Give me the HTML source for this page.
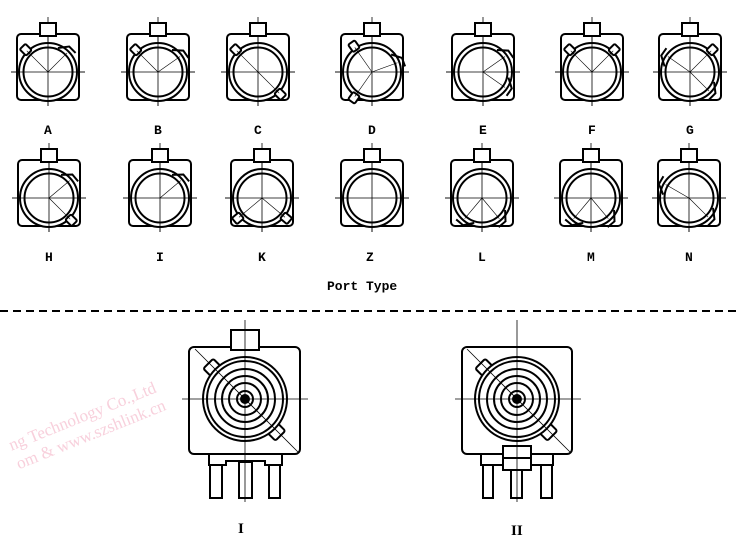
<!DOCTYPE html>
<html><head><meta charset="utf-8"><style>
html,body{margin:0;padding:0;background:#fff;}
svg{display:block;}
text{font-family:"Liberation Mono","DejaVu Sans Mono",monospace;font-weight:bold;font-size:13px;fill:#000;}
</style></head><body>
<svg width="740" height="546" viewBox="0 0 740 546" xmlns="http://www.w3.org/2000/svg">
<defs>
<g id="ic">
  <line x1="-37" y1="0" x2="37" y2="0" stroke="#000" stroke-width="0.8"/>
  <line x1="0" y1="-55" x2="0" y2="34" stroke="#000" stroke-width="0.8"/>
  <rect x="-31" y="-38" width="62" height="66" rx="4" fill="none" stroke="#000" stroke-width="2"/>
  <rect x="-8" y="-49" width="16" height="13" fill="#fff" stroke="#000" stroke-width="2"/>
  <circle cx="0" cy="0" r="29" fill="#fff" stroke="#000" stroke-width="2"/>
  <circle cx="0" cy="0" r="24.5" fill="none" stroke="#000" stroke-width="2"/>
  <line x1="-37" y1="0" x2="37" y2="0" stroke="#000" stroke-width="0.8"/>
  <line x1="0" y1="-36" x2="0" y2="34" stroke="#000" stroke-width="0.8"/>
</g>
<g id="nt"><rect x="27" y="-4" width="9" height="8" rx="1.5" fill="#fff" stroke="#000" stroke-width="2"/><line x1="0" y1="0" x2="30" y2="0" stroke="#000" stroke-width="0.6"/></g>
<g id="ln"><line x1="0" y1="0" x2="27" y2="0" stroke="#000" stroke-width="0.6"/><path d="M24,-10 L33,-3 L33,6" fill="none" stroke="#000" stroke-width="2"/></g>
</defs>

<!-- Row 1 -->
<g transform="translate(48,72)"><use href="#ic"/><use href="#nt" transform="rotate(-135)"/><use href="#ln" transform="rotate(-45)"/></g>
<g transform="translate(158,72)"><use href="#ic"/><use href="#nt" transform="rotate(-135)"/><use href="#ln" transform="rotate(-35)"/></g>
<g transform="translate(258,72)"><use href="#ic"/><use href="#nt" transform="rotate(-135)"/><use href="#nt" transform="rotate(45)"/></g>
<g transform="translate(372,72)"><use href="#ic"/><use href="#nt" transform="rotate(-125)"/><use href="#nt" transform="rotate(125)"/><use href="#ln" transform="rotate(-20)"/></g>
<g transform="translate(483,72)"><use href="#ic"/><use href="#ln" transform="rotate(-35)"/><use href="#ln" transform="rotate(35)"/></g>
<g transform="translate(592,72)"><use href="#ic"/><use href="#nt" transform="rotate(-135)"/><use href="#nt" transform="rotate(-45)"/></g>
<g transform="translate(690,72)"><use href="#ic"/><use href="#nt" transform="rotate(-45)"/><use href="#ln" transform="rotate(-145)"/><use href="#ln" transform="rotate(45)"/></g>

<!-- Row 2 -->
<g transform="translate(49,198)"><use href="#ic"/><use href="#nt" transform="rotate(45)"/><use href="#ln" transform="rotate(-40)"/></g>
<g transform="translate(160,198)"><use href="#ic"/><use href="#ln" transform="rotate(-40)"/></g>
<g transform="translate(262,198)"><use href="#ic"/><use href="#nt" transform="rotate(140)"/><use href="#nt" transform="rotate(40)"/></g>
<g transform="translate(372,198)"><use href="#ic"/></g>
<g transform="translate(482,198)"><use href="#ic"/><use href="#ln" transform="rotate(130)"/><use href="#ln" transform="rotate(50)"/></g>
<g transform="translate(591,198)"><use href="#ic"/><use href="#ln" transform="rotate(130)"/><use href="#ln" transform="rotate(50)"/></g>
<g transform="translate(689,198)"><use href="#ic"/><use href="#ln" transform="rotate(-150)"/><use href="#ln" transform="rotate(45)"/></g>

<!-- Labels -->
<text x="44" y="134">A</text><text x="154" y="134">B</text><text x="254" y="134">C</text><text x="368" y="134">D</text><text x="479" y="134">E</text><text x="588" y="134">F</text><text x="686" y="134">G</text>
<text x="45" y="261">H</text><text x="156" y="261">I</text><text x="258" y="261">K</text><text x="366" y="261">Z</text><text x="478" y="261">L</text><text x="587" y="261">M</text><text x="685" y="261">N</text>
<text x="327" y="290">Port Type</text>

<line x1="0" y1="311" x2="740" y2="311" stroke="#000" stroke-width="2" stroke-dasharray="8,5"/>

<text x="-10" y="420" transform="rotate(-22 80 380)" style="font-family:'Liberation Serif',serif;font-weight:normal;font-size:17px;fill:#f8d0dc">ng Technology Co.,Ltd</text>
<text x="-10" y="440" transform="rotate(-22 80 380)" style="font-family:'Liberation Serif',serif;font-weight:normal;font-size:17px;fill:#f8d0dc">om &amp; www.szshlink.cn</text>

<!-- Big I -->
<g stroke="#000" fill="none" stroke-width="2">
  <rect x="189" y="347" width="111" height="107" rx="5"/>
  <rect x="231" y="330" width="28" height="20" fill="#fff"/>
  <path d="M209,454 V465 H226 V461 H265 V465 H282 V454"/>
  <rect x="210" y="465" width="12" height="33"/>
  <rect x="239" y="462" width="13" height="36"/>
  <rect x="269" y="465" width="11" height="33"/>
  <g transform="rotate(45 245 399)">
    <rect x="194" y="393" width="12" height="14" rx="2" fill="#fff"/>
    <rect x="284" y="393" width="12" height="14" rx="2" fill="#fff"/>
  </g>
  <circle cx="245" cy="399" r="42" fill="#fff"/>
  <circle cx="245" cy="399" r="38"/>
  <circle cx="245" cy="399" r="30"/>
  <circle cx="245" cy="399" r="23"/>
  <circle cx="245" cy="399" r="16"/>
  <circle cx="245" cy="399" r="8"/>
  <circle cx="245" cy="399" r="4" fill="#000"/>
  <line x1="195" y1="349" x2="298" y2="452" stroke-width="0.8"/>
  <line x1="182" y1="399" x2="308" y2="399" stroke-width="0.8"/>
  <line x1="245" y1="320" x2="245" y2="502" stroke-width="0.8"/>
</g>
<!-- Big II -->
<g stroke="#000" fill="none" stroke-width="2">
  <rect x="462" y="347" width="110" height="107" rx="5"/>
  <path d="M481,454 V465 H503 M531,465 H553 V454"/>
  <rect x="483" y="465" width="10" height="33"/>
  <rect x="511" y="470" width="11" height="28"/>
  <rect x="541" y="465" width="11" height="33"/>
  <rect x="503" y="446" width="28" height="24" fill="#fff"/>
  <line x1="503" y1="458" x2="531" y2="458"/>
  <g transform="rotate(45 517 399)">
    <rect x="466" y="393" width="12" height="14" rx="2" fill="#fff"/>
    <rect x="556" y="393" width="12" height="14" rx="2" fill="#fff"/>
  </g>
  <circle cx="517" cy="399" r="42" fill="#fff"/>
  <circle cx="517" cy="399" r="38"/>
  <circle cx="517" cy="399" r="30"/>
  <circle cx="517" cy="399" r="23"/>
  <circle cx="517" cy="399" r="16"/>
  <circle cx="517" cy="399" r="8"/>
  <circle cx="517" cy="399" r="4" fill="#000"/>
  <line x1="467" y1="349" x2="570" y2="452" stroke-width="0.8"/>
  <line x1="455" y1="399" x2="581" y2="399" stroke-width="0.8"/>
  <line x1="517" y1="320" x2="517" y2="502" stroke-width="0.8"/>
</g>
<text x="238" y="533" style="font-family:'Liberation Serif',serif;font-size:15px">I</text>
<text x="511" y="535" style="font-family:'Liberation Serif',serif;font-size:15px">II</text>
</svg>
</body></html>
